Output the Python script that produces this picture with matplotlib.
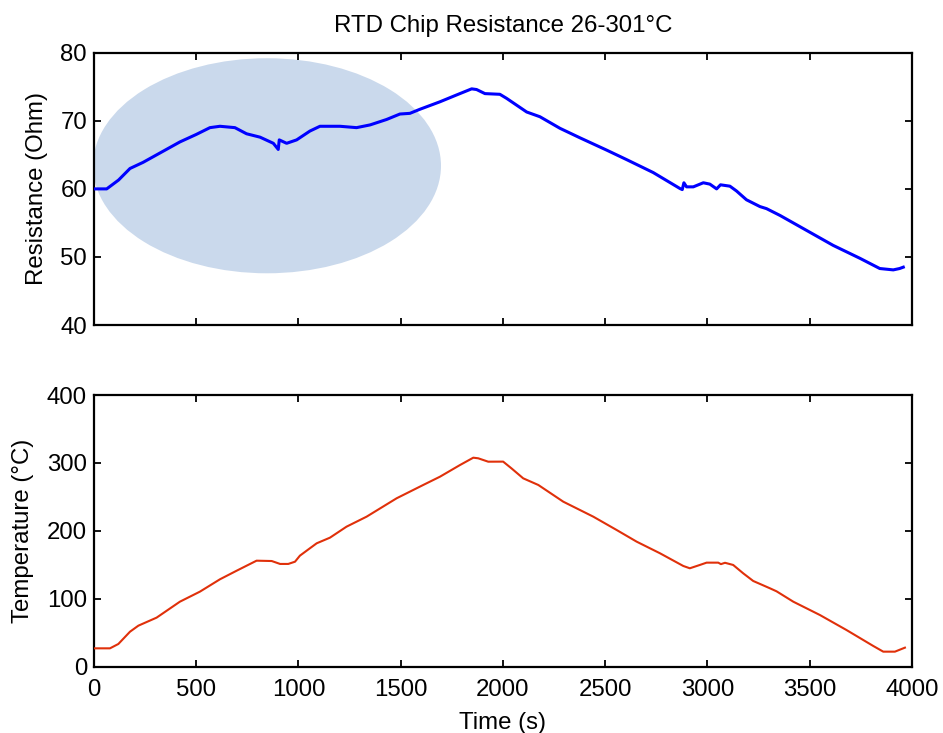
import matplotlib
matplotlib.use("Agg")
import matplotlib.pyplot as plt
from matplotlib.patches import Ellipse

plt.rcParams['font.family'] = ['Liberation Sans', 'DejaVu Sans']

# Resistance (Ohm) vs time (s)
res_time = [0, 62, 120, 176, 240, 306, 360, 420, 500, 567, 616, 689, 746, 812, 877, 901, 906,
            942, 991, 1056, 1105, 1203, 1284, 1350, 1431, 1496, 1545, 1594, 1692, 1773, 1847,
            1871, 1912, 1985, 2018, 2116, 2181, 2279, 2377, 2507, 2605, 2735, 2866, 2877, 2885,
            2898, 2931, 2980, 3012, 3045, 3064, 3110, 3142, 3191, 3257, 3289, 3355, 3485, 3615,
            3746, 3843, 3909, 3940, 3958]
resistance = [60.0, 60.0, 61.3, 63.0, 63.9, 65.0, 65.9, 66.9, 68.0, 69.0, 69.2, 69.0, 68.1,
              67.6, 66.7, 65.8, 67.2, 66.7, 67.2, 68.5, 69.2, 69.2, 69.0, 69.4, 70.2, 71.0,
              71.1, 71.7, 72.8, 73.8, 74.7, 74.6, 74.0, 73.9, 73.3, 71.3, 70.6, 68.9, 67.5,
              65.7, 64.3, 62.4, 60.05, 59.9, 60.9, 60.3, 60.3, 60.9, 60.7, 60.0, 60.6, 60.4,
              59.7, 58.4, 57.4, 57.1, 56.1, 53.9, 51.7, 49.8, 48.3, 48.1, 48.3, 48.5]

# Temperature (deg C) vs time (s)
temp_time = [0, 78, 119, 176, 217, 306, 420, 518, 616, 698, 795, 869, 910, 950, 983, 1007,
             1056, 1089, 1154, 1235, 1333, 1480, 1610, 1692, 1790, 1855, 1879, 1928, 2001,
             2042, 2099, 2173, 2295, 2442, 2556, 2654, 2768, 2882, 2914, 2963, 2996, 3053,
             3066, 3086, 3126, 3175, 3224, 3306, 3338, 3420, 3550, 3680, 3811, 3860, 3917, 3966]
temperature = [27, 27, 33.4, 51.5, 60.4, 72.2, 95.7, 110.5, 128.7, 141.4, 156.1, 155.6, 151.3,
               151.3, 154.6, 163.5, 174.4, 181.7, 190, 206.2, 220.9, 248, 267.6, 279.8, 297,
               307.8, 306.9, 301.9, 302, 292, 277.4, 267.6, 243, 220.9, 201.3, 184.1, 167,
               148.3, 144.9, 149.8, 153.2, 153.2, 151, 153, 149.8, 137.5, 126.2, 115.4, 111,
               95.7, 76.1, 54, 30.5, 22.1, 22.1, 28]

x_ticks = [0, 500, 1000, 1500, 2000, 2500, 3000, 3500, 4000]
res_ticks = [40, 50, 60, 70, 80]
temp_ticks = [0, 100, 200, 300, 400]

fig = plt.figure(figsize=(9.43, 7.33), dpi=100)
ax1 = fig.add_axes([0.0997, 0.5566, 0.8673, 0.3714])
ax2 = fig.add_axes([0.0997, 0.0905, 0.8673, 0.3705])

fs = 17.3
for ax in (ax1, ax2):
    ax.set_xlim(0, 4000)
    ax.set_xticks(x_ticks)
    ax.tick_params(direction='in', length=5, width=1.3, top=True, right=True,
                   labelsize=fs)
    ax.tick_params(axis='y', pad=5)
    ax.tick_params(axis='x', pad=9)
    for s in ax.spines.values():
        s.set_linewidth(1.6)

ell = Ellipse((846, 63.4), 1702, 31.6, facecolor='#cad9ec', edgecolor='none',
              zorder=1, clip_on=False)
ax1.add_patch(ell)
ax1.plot(res_time, resistance, color='#0000ff', lw=2.2, zorder=3)
ax1.set_ylim(40, 80)
ax1.set_yticks(res_ticks)
ax1.set_xticklabels([])
ax1.set_ylabel('Resistance (Ohm)', fontsize=fs, labelpad=9)
ax1.set_title('RTD Chip Resistance 26-301°C', fontsize=fs, pad=15)

ax2.plot(temp_time, temperature, color='#e0300a', lw=1.5, zorder=3)
ax2.set_ylim(0, 400)
ax2.set_yticks(temp_ticks)
ax2.set_xlabel('Time (s)', fontsize=fs, labelpad=8)
ax2.set_ylabel('Temperature (°C)', fontsize=fs, labelpad=9)

fig.savefig('out.png', dpi=100)
